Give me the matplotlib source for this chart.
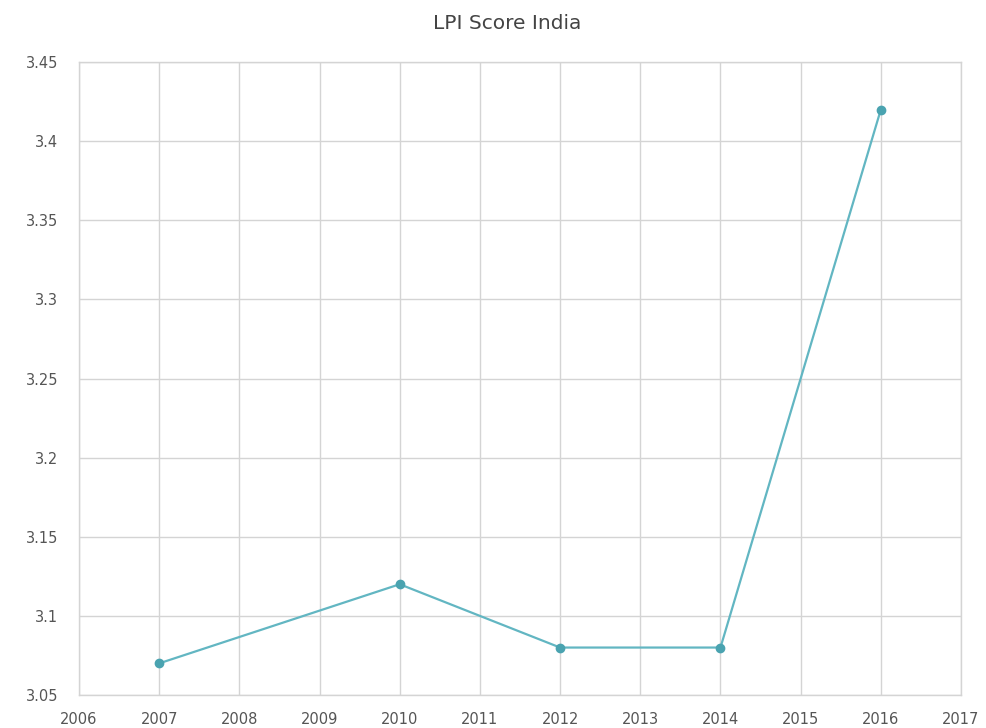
import matplotlib.pyplot as plt
from matplotlib.ticker import MultipleLocator, FuncFormatter

years = [2007, 2010, 2012, 2014, 2016]
lpi_scores = [3.07, 3.12, 3.08, 3.08, 3.42]
x_ticks = list(range(2006, 2018))

grid_color = "#d4d4d4"
line_color = "#62b6c2"
marker_color = "#4aa3b0"
text_color = "#555555"

fig = plt.figure(figsize=(9.87, 7.28), dpi=100)
ax = fig.add_axes([0.080, 0.0453, 0.8937, 0.8695])

ax.plot(years, lpi_scores, color=line_color, linewidth=1.6, marker="o",
        markersize=6, markerfacecolor=marker_color, markeredgecolor=marker_color,
        zorder=3)

ax.set_xlim(2006, 2017)
ax.set_ylim(3.05, 3.45)
ax.set_xticks(x_ticks)
ax.set_xticklabels([str(y) for y in x_ticks])
ax.yaxis.set_major_locator(MultipleLocator(0.05))
ax.yaxis.set_major_formatter(FuncFormatter(lambda v, pos: f"{v:g}"))

ax.grid(True, color=grid_color, linewidth=1)
ax.set_axisbelow(True)
for spine in ax.spines.values():
    spine.set_color(grid_color)
    spine.set_linewidth(1)

ax.tick_params(length=0, labelsize=10.5, colors=text_color, pad=12)
ax.tick_params(axis="y", pad=15)

fig.text(0.514, 0.968, "LPI Score India", ha="center", va="center",
         fontsize=14.5, color="#444444")

fig.savefig("out.png", dpi=100)
plt.close(fig)
